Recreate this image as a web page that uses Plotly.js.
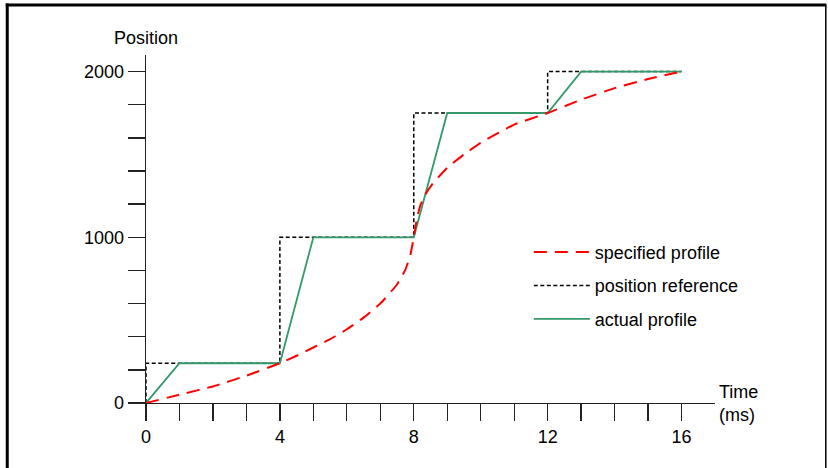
<!DOCTYPE html>
<html>
<head>
<meta charset="utf-8">
<script src="https://cdn.plot.ly/plotly-3.0.1.min.js"></script>
<style>html,body{margin:0;padding:0;background:#fff;}#chart{width:828px;height:468px;}</style>
</head>
<body>
<div id="chart"></div>
<script>
// ---- data ----
const specTime = [0, 1, 2, 3, 4, 4.5, 5, 5.5, 6, 6.5, 7, 7.5, 7.75, 7.9, 8, 8.1, 8.2, 8.35, 8.55, 9, 9.5, 10, 11, 12, 13, 14, 15, 16];
const specPos  = [0, 50, 100, 165, 240, 285, 335, 385, 445, 515, 600, 715, 805, 895, 1000, 1120, 1195, 1260, 1320, 1420, 1500, 1570, 1680, 1750, 1830, 1900, 1955, 2000];

const refTime = [0, 0, 4, 8, 12, 16];
const refPos  = [0, 240, 1000, 1750, 2000, 2000];

const actTime = [0, 1, 4, 5, 8, 9, 12, 13, 16];
const actPos  = [0, 240, 240, 1000, 1000, 1750, 1750, 2000, 2000];

const xTickVals = [0,1,2,3,4,5,6,7,8,9,10,11,12,13,14,15,16];
const xTickText = ['0','','','','4','','','','8','','','','12','','','','16'];
const yTickVals = [0,200,400,600,800,1000,1200,1400,1600,1800,2000];
const yTickText = ['0','','','','','1000','','','','','2000'];

const seriesNames = ['specified profile', 'position reference', 'actual profile'];

// ---- layout geometry (pixels) ----
const W = 828, H = 468;
const L = 145.5, R = 715.5, T = 55.4, B = 403;
const px = x => (x - L) / (R - L);
const py = y => (B - y) / (B - T);

const FONT = 'Liberation Sans, Arial, Helvetica, sans-serif';

const traces = [
  {x: refTime, y: refPos, name: seriesNames[1], mode: 'lines', legendrank: 2, legendgroup: 'b',
   line: {color: '#000000', width: 1.5, dash: '4px,2.5px', shape: 'hv'}},
  {x: actTime, y: actPos, name: seriesNames[2], mode: 'lines', legendrank: 3, legendgroup: 'c',
   line: {color: '#33996a', width: 1.8}},
  {x: specTime, y: specPos, name: seriesNames[0], mode: 'lines', legendrank: 1, legendgroup: 'a',
   line: {color: '#ff0000', width: 2, dash: '13px,8px', shape: 'spline', smoothing: 0.4}}
];

const axisCommon = {
  showgrid: false, zeroline: false, showline: true, linecolor: '#222', linewidth: 1.3,
  ticks: 'outside', ticklen: 17, tickwidth: 1.3, tickcolor: '#222',
  tickfont: {family: FONT, size: 18, color: '#000'}, fixedrange: true
};

const layout = {
  width: W, height: H,
  margin: {l: L, r: W - R, t: T, b: H - B, pad: 0},
  paper_bgcolor: '#fff', plot_bgcolor: '#fff',
  font: {family: FONT, size: 18, color: '#000'},
  xaxis: Object.assign({}, axisCommon, {range: [0, 17], tickmode: 'array', tickvals: xTickVals, ticktext: xTickText}),
  yaxis: Object.assign({}, axisCommon, {range: [0, 2100], tickmode: 'array', tickvals: yTickVals, ticktext: yTickText}),
  showlegend: true,
  legend: {
    x: px(529), y: py(234), xanchor: 'left', yanchor: 'top',
    bgcolor: 'rgba(0,0,0,0)', borderwidth: 0,
    font: {family: FONT, size: 18, color: '#000'},
    itemwidth: 56, tracegroupgap: 7, traceorder: 'grouped'
  },
  annotations: [
    {text: 'Position', xref: 'paper', yref: 'paper', x: px(146), y: py(38), xanchor: 'center', yanchor: 'middle',
     showarrow: false, font: {family: FONT, size: 18, color: '#000'}},
    {text: 'Time<br>(ms)', xref: 'paper', yref: 'paper', x: px(718), y: py(403), xanchor: 'left', yanchor: 'middle',
     align: 'left', showarrow: false, font: {family: FONT, size: 18, color: '#000'}}
  ],
  shapes: [
    {type: 'line', xref: 'paper', yref: 'paper', x0: px(6.5), x1: px(6.5), y0: py(4), y1: py(470), line: {color: '#000', width: 3}},
    {type: 'line', xref: 'paper', yref: 'paper', x0: px(5), x1: px(827), y0: py(5.5), y1: py(5.5), line: {color: '#000', width: 3}},
    {type: 'line', xref: 'paper', yref: 'paper', x0: px(826.5), x1: px(826.5), y0: py(5), y1: py(470), line: {color: '#000', width: 1.5}}
  ]
};

Plotly.newPlot('chart', traces, layout, {displayModeBar: false, staticPlot: true});
</script>
</body>
</html>
